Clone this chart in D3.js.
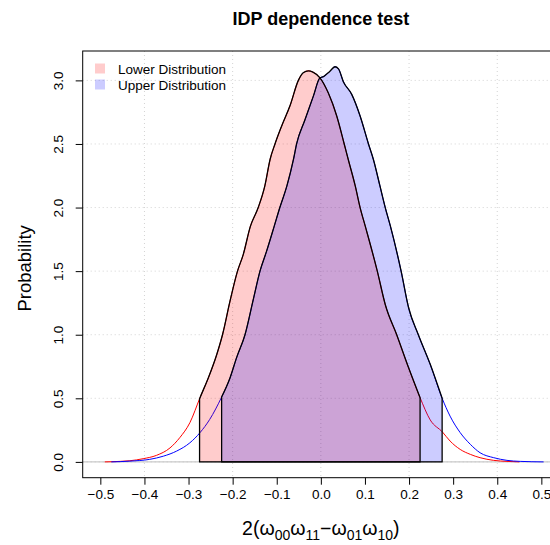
<!DOCTYPE html>
<html><head><meta charset="utf-8">
<script src="https://cdn.jsdelivr.net/npm/d3@7"></script>
<style>
html,body{margin:0;padding:0;background:#fff;}
svg{display:block;font-family:"Liberation Sans",Arial,Helvetica,sans-serif;}
</style></head>
<body>
<script>
// ---- data ----
const redX = [-0.49,-0.478,-0.455,-0.433,-0.403,-0.373,-0.342,-0.32,-0.297,-0.274,-0.255,-0.236,-0.223,-0.206,-0.189,-0.176,-0.16,-0.142,-0.127,-0.115,-0.104,-0.089,-0.07,-0.051,-0.04,-0.028,-0.018,-0.002,0.017,0.036,0.053,0.062,0.078,0.089,0.101,0.128,0.146,0.172,0.199,0.225,0.248,0.276,0.293,0.316,0.339,0.361,0.392,0.422,0.45];
const redY = [0,0.001,0.004,0.009,0.025,0.051,0.11,0.19,0.308,0.505,0.662,0.845,1.0,1.264,1.5,1.63,1.85,2.0,2.17,2.38,2.5,2.64,2.80,3.0,3.06,3.075,3.065,3.02,2.90,2.72,2.5,2.38,2.17,2.0,1.85,1.5,1.238,1.0,0.74,0.505,0.33,0.234,0.164,0.098,0.059,0.033,0.012,0.004,0];
const blueX = [-0.475,-0.455,-0.433,-0.388,-0.357,-0.327,-0.297,-0.274,-0.252,-0.225,-0.206,-0.191,-0.172,-0.153,-0.138,-0.123,-0.106,-0.093,-0.077,-0.062,-0.055,-0.036,-0.017,-0.002,0.006,0.02,0.032,0.04,0.051,0.070,0.089,0.108,0.119,0.134,0.146,0.158,0.182,0.199,0.221,0.248,0.275,0.293,0.316,0.339,0.361,0.392,0.422,0.452,0.505];
const blueY = [0,0.002,0.006,0.02,0.045,0.085,0.15,0.23,0.334,0.51,0.66,0.82,1.0,1.28,1.5,1.657,1.85,2.0,2.17,2.38,2.5,2.69,2.876,3.02,3.03,3.07,3.107,3.09,2.99,2.89,2.72,2.5,2.38,2.17,2.0,1.85,1.5,1.212,1.0,0.767,0.5,0.36,0.23,0.138,0.072,0.033,0.012,0.004,0];
const redRange = [-0.275, 0.225];
const blueRange = [-0.225, 0.275];
const xTicks = [-0.5,-0.4,-0.3,-0.2,-0.1,0,0.1,0.2,0.3,0.4,0.5];
const yTicks = [0,0.5,1.0,1.5,2.0,2.5,3.0];
const xGrid = [-0.4,-0.2,0,0.2,0.4];
const legendLabels = ["Lower Distribution","Upper Distribution"];
const titleText = "IDP dependence test";
const yLabel = "Probability";

// ---- layout ----
const W = 550, H = 545;
const L = 82.7, R = 559, T = 51, B = 477.7;
const x = d3.scaleLinear().domain([-0.54, 0.54]).range([L, R]);
const y = d3.scaleLinear().domain([-0.1243, 3.231]).range([B, T]);

const svg = d3.select("body").append("svg").attr("width", W).attr("height", H);
svg.append("defs").append("clipPath").attr("id","clip")
  .append("rect").attr("x",L).attr("y",T).attr("width",R-L).attr("height",B-T);

const plot = svg.append("g").attr("clip-path","url(#clip)");

// grid
plot.selectAll(".gx").data(xGrid).join("line")
  .attr("x1", d=>x(d)).attr("x2", d=>x(d)).attr("y1", T).attr("y2", B)
  .attr("stroke","#d3d3d3").attr("stroke-dasharray","1,3");
plot.selectAll(".gy").data(yTicks).join("line")
  .attr("x1", L).attr("x2", R).attr("y1", d=>y(d)).attr("y2", d=>y(d))
  .attr("stroke","#d3d3d3").attr("stroke-dasharray","1,3");
// zero line
plot.append("line").attr("x1",L).attr("x2",R).attr("y1",y(0)).attr("y2",y(0))
  .attr("stroke","#bebebe").attr("stroke-width",1);

const red = redX.map((v,i)=>({x:v,y:redY[i]}));
const blue = blueX.map((v,i)=>({x:v,y:blueY[i]}));

function interp(pts, xv){
  for(let i=0;i<pts.length-1;i++){
    const a=pts[i], b=pts[i+1];
    if(xv>=a.x && xv<=b.x){ const t=(xv-a.x)/(b.x-a.x); return a.y+t*(b.y-a.y); }
  }
  return 0;
}
function segment(pts, lo, hi){
  const inner = pts.filter(p=>p.x>lo && p.x<hi);
  return [{x:lo,y:interp(pts,lo)}, ...inner, {x:hi,y:interp(pts,hi)}];
}

const curve = d3.curveMonotoneX;
const line = d3.line().x(d=>x(d.x)).y(d=>y(d.y)).curve(curve);
const area = d3.area().x(d=>x(d.x)).y0(y(0)).y1(d=>y(d.y)).curve(curve);

// full density lines
plot.append("path").attr("d", line(red)).attr("fill","none").attr("stroke","#ff0000").attr("stroke-width",1);
plot.append("path").attr("d", line(blue)).attr("fill","none").attr("stroke","#0000ff").attr("stroke-width",1);

const redSeg = segment(red, redRange[0], redRange[1]);
const blueSeg = segment(blue, blueRange[0], blueRange[1]);
plot.append("path").attr("d", area(redSeg)).attr("fill","rgba(255,0,0,0.2)").attr("stroke","none");
plot.append("path").attr("d", area(blueSeg)).attr("fill","rgba(0,0,255,0.2)").attr("stroke","none");
plot.append("path").attr("d", area(redSeg)+"Z").attr("fill","none").attr("stroke","#000").attr("stroke-width",1.3).attr("stroke-linejoin","round");
plot.append("path").attr("d", area(blueSeg)+"Z").attr("fill","none").attr("stroke","#000").attr("stroke-width",1.3).attr("stroke-linejoin","round");

// box
svg.append("rect").attr("x",L).attr("y",T).attr("width",R-L).attr("height",B-T)
  .attr("fill","none").attr("stroke","#000").attr("stroke-width",1);

// axes
const fmt = d => (d<0?"\u2212":"") + Math.abs(d).toFixed(1);
const xAxis = d3.axisBottom(x).tickValues(xTicks).tickSize(7).tickPadding(5).tickFormat(fmt);
const gx = svg.append("g").attr("transform",`translate(0,${B})`).call(xAxis);
gx.select(".domain").remove();
gx.selectAll("text").attr("font-size",13.5).attr("fill","#000").attr("font-family","Liberation Sans, Arial, sans-serif");
gx.selectAll("line").attr("stroke","#000");

const yAxis = d3.axisLeft(y).tickValues(yTicks).tickSize(7).tickFormat(d=>d.toFixed(1));
const gy = svg.append("g").attr("transform",`translate(${L},0)`).call(yAxis);
gy.select(".domain").remove();
gy.selectAll("line").attr("stroke","#000");
gy.selectAll("text").attr("font-size",13.5).attr("fill","#000")
  .attr("font-family","Liberation Sans, Arial, sans-serif")
  .attr("x",0).attr("dy",0).attr("text-anchor","middle")
  .attr("transform","translate(-19.5,0) rotate(-90)");

// title
svg.append("text").attr("x",x(0)).attr("y",25).attr("text-anchor","middle")
  .attr("font-size",18).attr("font-weight","bold").text(titleText);

// y label
svg.append("text").attr("transform",`translate(31,${(T+B)/2 + 4}) rotate(-90)`)
  .attr("text-anchor","middle").attr("font-size",18.5).text(yLabel);

// x label with subscripts
const xl = svg.append("text").attr("x",x(0)).attr("y",535).attr("text-anchor","middle").attr("font-size",19.5);
const parts = [["2(\u03c9",0],["00",1],["\u03c9",0],["11",1],["\u2212\u03c9",0],["01",1],["\u03c9",0],["10",1],[")",0]];
let prevSub = 0;
parts.forEach(([t,s])=>{
  const ts = xl.append("tspan").text(t);
  const dy = (s - prevSub) * 4.5;
  if(dy!==0) ts.attr("dy", dy);
  if(s) ts.attr("font-size",14);
  prevSub = s;
});

// legend
const legColors = ["rgba(255,0,0,0.2)","rgba(0,0,255,0.2)"];
const lg = svg.append("g");
legendLabels.forEach((lab,i)=>{
  const cy = 68.5 + i*16;
  lg.append("rect").attr("x",95).attr("y",cy-5).attr("width",10).attr("height",10).attr("fill",legColors[i]);
  lg.append("text").attr("x",118).attr("y",cy+5).attr("font-size",13.5).text(lab);
});
</script>
</body></html>
